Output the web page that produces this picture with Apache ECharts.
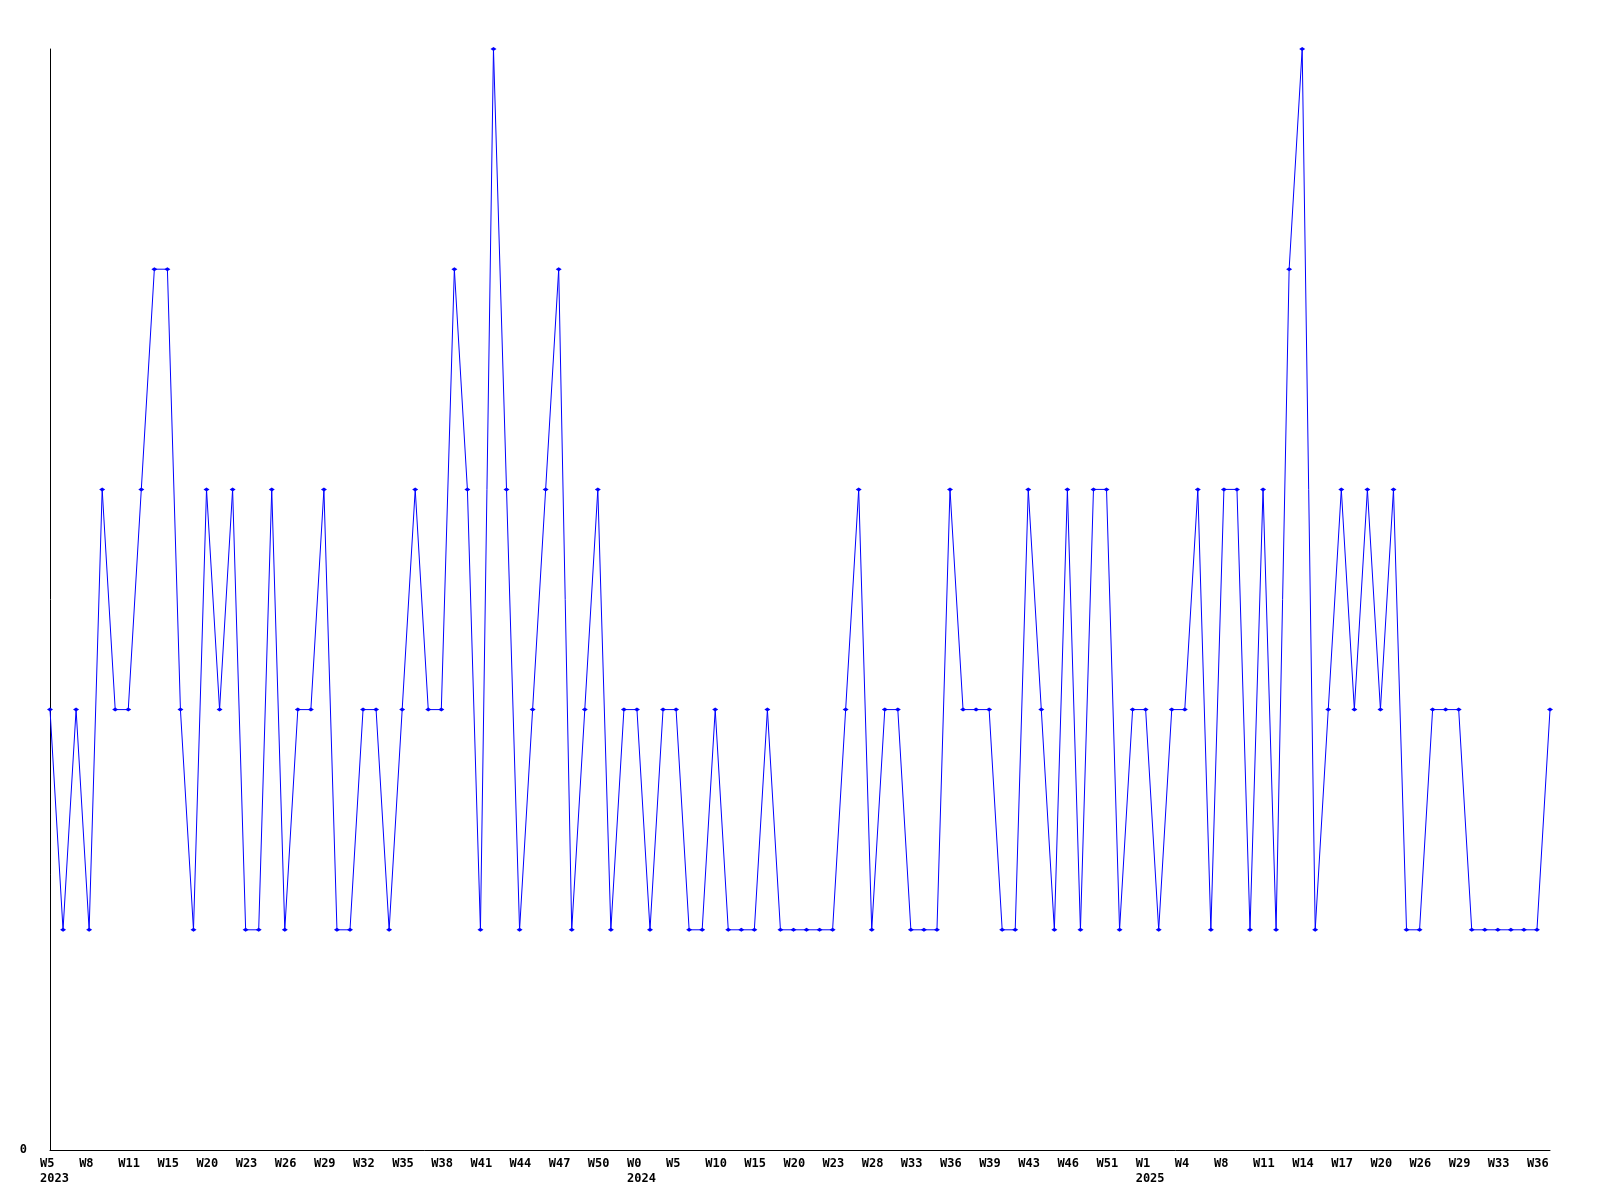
<!DOCTYPE html>
<html>
<head>
<meta charset="utf-8">
<script src="https://cdn.jsdelivr.net/npm/echarts@6/dist/echarts.min.js"></script>
<style>
html,body{margin:0;padding:0;background:#fff;}
#chart{width:1600px;height:1200px;}
</style>
</head>
<body>
<div id="chart"></div>
<script>
// Series values, one per category point
const values = [
  2,1,2,1,3,2,2,3,4,4,
  2,1,3,2,3,1,1,3,1,2,
  2,3,1,1,2,2,1,2,3,2,
  2,4,3,1,5,3,1,2,3,4,
  1,2,3,1,2,2,1,2,2,1,
  1,2,1,1,1,2,1,1,1,1,
  1,2,3,1,2,2,1,1,1,3,
  2,2,2,1,1,3,2,1,3,1,
  3,3,1,2,2,1,2,2,3,1,
  3,3,1,3,1,4,5,1,2,3,
  2,3,2,3,1,1,2,2,2,1,
  1,1,1,1,1,2
];
// Tick labels shown every third point
const tickLabels = ['W5','W8','W11','W15','W20','W23','W26','W29','W32','W35','W38','W41','W44','W47','W50',
  'W0','W5','W10','W15','W20','W23','W28','W33','W36','W39','W43','W46','W51',
  'W1','W4','W8','W11','W14','W17','W20','W26','W29','W33','W36'];
// Year shown under some tick labels (tick label index -> year)
const yearTickIndex = [0, 15, 28];
const yearLabels = ['2023', '2024', '2025'];
const labelStep = 3;

const categories = values.map((v, i) => String(i));

const chart = echarts.init(document.getElementById('chart'), null, {renderer: 'canvas'});
const fontFamily = '"DejaVu Sans Mono", "Liberation Mono", monospace';
chart.setOption({
  animation: false,
  backgroundColor: '#ffffff',
  grid: {left: 50, right: 50, top: 49, bottom: 50, containLabel: false},
  xAxis: {
    type: 'category',
    data: categories,
    boundaryGap: false,
    axisLine: {show: true, lineStyle: {color: '#000', width: 1}},
    axisTick: {show: false},
    splitLine: {show: false},
    axisLabel: {
      interval: labelStep - 1,
      align: 'left',
      padding: [0, 0, 0, -10],
      margin: 6,
      color: '#000',
      fontFamily: fontFamily,
      fontWeight: 'bold',
      fontSize: 12,
      lineHeight: 15,
      formatter: function (val, idx) {
        if (idx % labelStep !== 0) return '';
        const t = idx / labelStep;
        let s = tickLabels[t] || '';
        const y = yearTickIndex.indexOf(t);
        if (y >= 0) s += '\n' + yearLabels[y];
        return s;
      }
    }
  },
  yAxis: {
    type: 'value',
    min: 0,
    max: 5,
    interval: 5,
    axisLine: {show: true, lineStyle: {color: '#000', width: 1}},
    axisTick: {show: false},
    splitLine: {show: false},
    axisLabel: {
      margin: 23,
      color: '#000',
      fontFamily: fontFamily,
      fontWeight: 'bold',
      fontSize: 12,
      formatter: function (v) { return v === 0 ? '0' : ''; }
    }
  },
  series: [{
    type: 'line',
    data: values,
    symbol: 'diamond',
    symbolSize: [6, 4],
    showAllSymbol: true,
    lineStyle: {color: '#0000ff', width: 1},
    itemStyle: {color: '#0000ff'},
    emphasis: {disabled: true}
  }]
});
</script>
</body>
</html>
